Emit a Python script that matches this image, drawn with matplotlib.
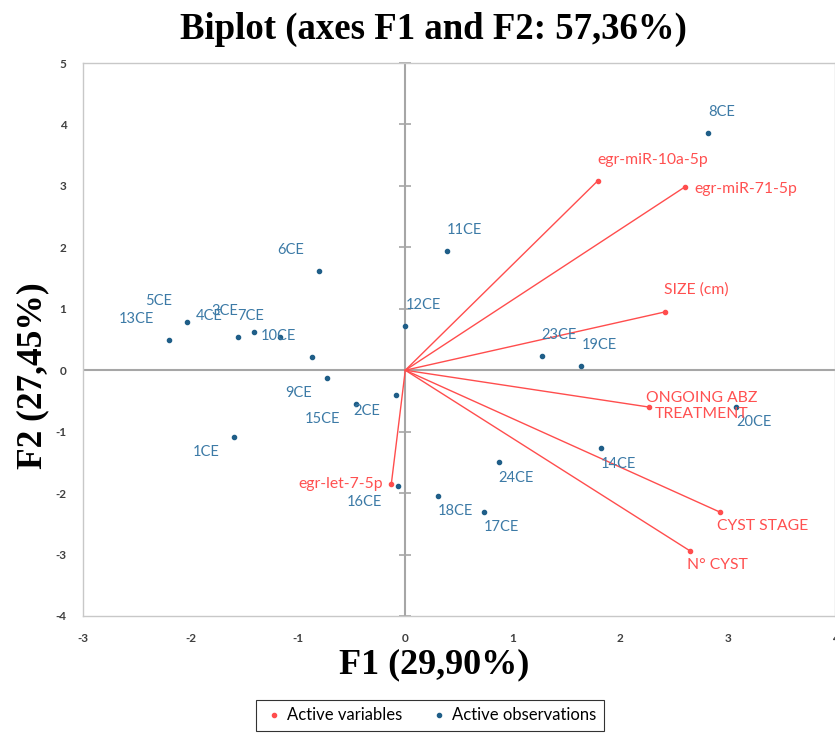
import matplotlib
matplotlib.use("Agg")
import matplotlib.pyplot as plt
from matplotlib.lines import Line2D

plt.rcParams["axes.unicode_minus"] = False

# ---- data ----
obs_names = ["1CE", "2CE", "3CE", "4CE", "5CE", "6CE", "7CE", "8CE", "9CE", "10CE",
             "11CE", "12CE", "13CE", "14CE", "15CE", "16CE", "17CE", "18CE", "19CE",
             "20CE", "23CE", "24CE"]
obs_f1 = [-1.59, -0.09, -1.41, -1.56, -2.03, -0.80, -1.17, 2.82, -0.73, -0.87,
          0.39, 0.00, -2.20, 1.82, -0.46, -0.07, 0.73, 0.30, 1.64,
          3.08, 1.27, 0.87]
obs_f2 = [-1.09, -0.41, 0.62, 0.54, 0.78, 1.61, 0.54, 3.86, -0.13, 0.21,
          1.94, 0.72, 0.50, -1.27, -0.55, -1.89, -2.30, -2.05, 0.07,
          -0.60, 0.23, -1.50]

var_names = ["egr-miR-10a-5p", "egr-miR-71-5p", "SIZE (cm)", "ONGOING ABZ\nTREATMENT",
             "CYST STAGE", "N° CYST", "egr-let-7-5p"]
var_f1 = [1.79, 2.60, 2.42, 2.27, 2.93, 2.65, -0.13]
var_f2 = [3.08, 2.98, 0.95, -0.60, -2.31, -2.94, -1.85]

x_ticks = [-3, -2, -1, 0, 1, 2, 3, 4]
y_ticks = [-4, -3, -2, -1, 0, 1, 2, 3, 4, 5]

title = "Biplot (axes F1 and F2: 57,36%)"
xlabel = "F1 (29,90%)"
ylabel = "F2 (27,45%)"

# ---- style ----
RED = "#FF4D4D"
RED_TXT = "#FF5050"
BLUE = "#1F5E88"
BLUE_TXT = "#3C7AA6"
GRAY = "#A6A6A6"
SANS = ["Lato", "DejaVu Sans"]
SERIF = ["Liberation Serif", "DejaVu Serif"]

fig = plt.figure(figsize=(8.35, 7.33), dpi=100)
ax = fig.add_axes([83 / 835, 1 - 616 / 733, 752 / 835, 553 / 733])
ax.set_xlim(-3, 4)
ax.set_ylim(-4, 5)

for s in ax.spines.values():
    s.set_color("#C8C8C8")
    s.set_linewidth(1.0)

ax.set_xticks(x_ticks)
ax.set_yticks(y_ticks)
ax.tick_params(length=0, labelsize=8.5, labelcolor="#404040", pad=12)
for lab in ax.get_xticklabels() + ax.get_yticklabels():
    lab.set_family(SANS)
    lab.set_fontweight("bold")

# axis lines through the origin
ax.axhline(0, color=GRAY, lw=1.5, zorder=1)
ax.axvline(0, color=GRAY, lw=1.5, zorder=1)
# ticks on vertical axis
for yt in y_ticks:
    ax.plot([0], [yt], marker="_", markersize=9, color=GRAY, mew=1.2, zorder=1,
            clip_on=False)

# variable arrows
for x, y in zip(var_f1, var_f2):
    ax.plot([0, x], [0, y], color=RED, lw=1.0, zorder=2)
ax.scatter(var_f1, var_f2, s=9, color=RED, zorder=3)

# observation points
ax.scatter(obs_f1, obs_f2, s=9, color=BLUE, zorder=4)

# observation labels (quadrant placement)
for name, x, y in zip(obs_names, obs_f1, obs_f2):
    dx = 0 if x >= 0 else -11
    dy = 15 if y >= 0 else -11
    ha = "left" if x >= 0 else "right"
    ax.annotate(name, (x, y), xytext=(dx, dy), textcoords="offset points",
                ha=ha, va="center", color=BLUE_TXT, fontsize=10.5,
                family=SANS, zorder=5)

# variable labels
var_place = [("left", 0, 15), ("left", 7, -1), ("left", -1, 16), ("left", -2, 1),
             ("left", -2, -10), ("left", -2, -10), ("right", -6, 0)]
for name, x, y, (ha, dx, dy) in zip(var_names, var_f1, var_f2, var_place):
    ax.annotate(name, (x, y), xytext=(dx, dy), textcoords="offset points",
                ha=ha, va="center", multialignment="center", color=RED_TXT,
                fontsize=11.3, family=SANS, linespacing=1.15, zorder=5)

# titles
fig.text(433 / 835, 1 - 29 / 733, title, ha="center", va="center",
         fontsize=26.5, fontweight="bold", family=SERIF)
fig.text(434 / 835, 1 - 665 / 733, xlabel, ha="center", va="center",
         fontsize=26, fontweight="bold", family=SERIF)
fig.text(33 / 835, 1 - 376 / 733, ylabel, ha="center", va="center",
         rotation=90, fontsize=25.5, fontweight="bold", family=SERIF)

# legend
handles = [Line2D([], [], marker="o", ls="none", color=RED, markersize=3),
           Line2D([], [], marker="o", ls="none", color=BLUE, markersize=3)]
leg = fig.legend(handles, ["Active variables", "Active observations"],
                 loc="upper center", bbox_to_anchor=(430 / 835, 1 - 700 / 733),
                 ncol=2, frameon=True, fancybox=False, edgecolor="black",
                 prop={"family": SANS, "size": 12}, handletextpad=0.2,
                 columnspacing=1.6, handlelength=1.2, borderpad=0.45,
                 borderaxespad=0)
leg.get_frame().set_linewidth(0.8)

fig.savefig("out.png", dpi=100)
